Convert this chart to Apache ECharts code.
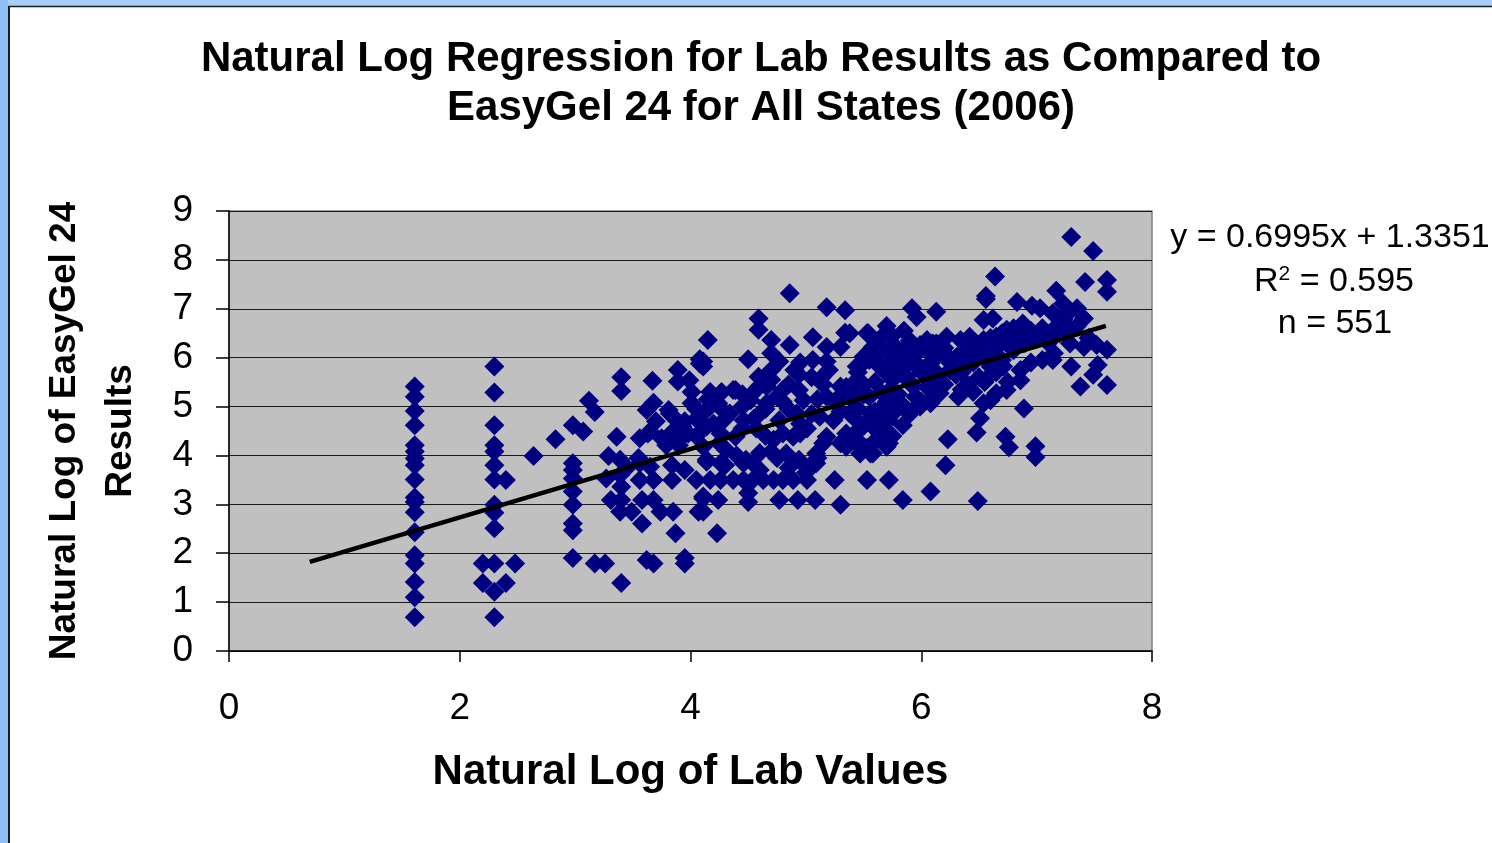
<!DOCTYPE html>
<html>
<head>
<meta charset="utf-8">
<title>Natural Log Regression for Lab Results</title>
<script src="https://cdn.jsdelivr.net/npm/echarts@6/dist/echarts.min.js"></script>
<style>
  html, body { margin: 0; padding: 0; background: #ffffff; }
  #chart { width: 1492px; height: 843px; }
</style>
</head>
<body>
<div id="chart"></div>
<script>
// ln(lab value) vs ln(EasyGel 24 result)
const labGelPairs = [
  [1.61,5.41],[1.61,5.2],[1.61,4.91],[1.61,4.62],[1.61,4.21],[1.61,4.08],[1.61,3.94],[1.61,3.80],[1.61,3.51],
  [1.61,3.14],[1.61,3.05],[1.61,2.84],[1.61,2.43],[1.61,1.96],[1.61,1.79],[1.61,1.41],[1.61,1.10],[1.61,0.69],
  [2.30,5.82],[2.30,5.29],[2.30,4.62],[2.30,4.21],[2.30,4.08],[2.30,3.80],[2.30,3.51],[2.30,2.99],[2.30,2.83],
  [2.30,2.51],[2.30,1.79],[2.30,1.21],[2.30,0.69],
  [2.20,1.79],[2.48,1.79],[2.20,1.39],[2.40,1.39],[2.40,3.50],[2.64,3.99],[2.83,4.33],
  [2.98,4.62],[3.07,4.49],[3.12,5.12],[3.17,4.89],[2.98,3.84],[2.98,3.70],[2.98,3.53],[2.98,3.26],[2.98,2.99],
  [2.98,2.61],[2.98,2.47],[2.98,1.90],
  [3.17,1.79],[3.26,1.79],[3.40,1.39],[3.40,5.60],[3.40,5.32],[3.36,4.38],[3.29,3.99],[3.39,3.91],[3.39,3.60],
  [3.27,3.53],[3.40,3.36],[3.31,3.09],[3.40,3.09],[3.39,2.85],[3.49,2.85],[3.58,2.61],[3.58,3.09],[3.68,3.09],
  [3.56,4.35],[3.65,4.49],[3.62,4.93],[3.68,5.08],[3.67,5.53],[3.65,3.77],[3.62,1.86],[3.68,1.79],
  [3.74,2.85],[3.85,2.85],[3.87,2.41],[3.95,1.90],[3.95,1.79],[3.84,3.80],[3.79,4.21],[3.81,4.93],[3.89,5.75],
  [3.89,5.51],[4.01,5.30],[4.01,5.07],[4.08,5.88],[4.14,4.93],[4.17,5.30],[4.07,2.85],[4.11,3.16],[4.14,3.91],
  [3.88,4.72],[3.93,4.59],[3.98,4.45],[3.90,4.21],[4.23,2.41],
  [4.59,6.80],[4.59,6.57],[4.70,6.36],[4.15,6.36],[4.08,5.97],[4.50,5.97],[3.99,5.54],[4.70,6.09],[4.70,5.75],
  [4.59,5.61],[4.27,5.30],[4.39,5.34],[4.59,5.40],
  [4.86,7.32],[5.18,7.03],[5.34,6.97],[5.92,7.01],[5.96,6.83],[6.13,6.94],[4.86,6.26],[5.06,6.42],[5.34,6.51],
  [5.53,6.50],[5.70,6.65],[5.30,6.22],[5.18,6.22],[5.58,6.22],[5.76,6.26],[5.99,6.26],[6.10,6.29],[4.77,5.92],
  [5.06,5.95],[5.18,5.92],[5.47,5.83],[5.61,5.92],[5.82,5.95],[5.96,5.88],[4.11,5.92],[4.11,5.82],[4.94,5.65],
  [5.13,5.58],[4.94,5.34],[4.80,5.34],[4.66,5.41],[4.37,5.34],[4.26,5.27],[5.30,5.41],[5.44,5.54],[5.70,5.68],
  [5.87,5.61],[6.08,5.61],[4.52,5.13],[4.66,5.07],[4.80,5.10],[4.98,5.13],[5.18,5.20],[5.32,5.27],[5.50,5.24],
  [5.70,5.27],[5.93,5.41],[6.10,5.41],[4.17,5.00],[4.34,4.86],[4.46,4.72],[4.60,4.86],[4.77,4.72],[4.92,4.86],
  [5.12,4.79],[5.24,4.72],[5.38,4.86],[5.58,4.79],[5.70,4.86],[5.84,4.62],[5.99,5.00],[4.14,4.59],[4.26,4.45],
  [4.39,4.38],[4.57,4.55],[4.72,4.32],[4.89,4.38],[5.01,4.55],[5.18,4.38],[5.30,4.25],[5.44,4.49],[5.53,4.15],
  [5.64,4.45],[5.72,4.25],[4.11,4.18],[4.31,4.11],[4.48,3.91],[4.70,4.08],[4.83,4.04],[4.94,3.91],[5.09,4.04],
  [5.35,4.18],[5.47,4.04],[5.58,4.04],[5.06,3.80],[4.14,3.87],
  [3.56,3.50],[3.68,3.50],[3.84,3.50],[4.05,3.50],[4.17,3.50],[4.26,3.50],[4.37,3.50],[4.46,3.50],[4.54,3.50],
  [4.63,3.50],[4.72,3.50],[4.80,3.50],[4.89,3.50],[5.01,3.50],[5.25,3.50],[5.53,3.50],[5.72,3.50],
  [4.50,3.23],[4.11,3.12],[4.24,3.09],[4.50,3.05],[4.77,3.09],[4.93,3.09],[5.08,3.09],[5.30,2.99],[5.84,3.09],
  [6.08,3.26],[4.11,2.85],
  [3.56,3.84],[4.26,3.84],[4.46,3.84],[4.54,3.84],[3.63,4.45],[3.82,4.86],[4.24,5.07],[3.90,4.32],[4.11,4.62],
  [5.09,3.84],
  [7.30,8.47],[7.49,8.18],[6.64,7.66],[7.42,7.55],[7.61,7.59],[7.61,7.35],[7.17,7.37],[6.56,7.26],[6.56,7.20],
  [6.83,7.14],[6.96,7.06],[7.03,7.01],[7.23,7.11],[7.35,7.01],[7.41,6.80],[7.23,6.78],[7.14,6.91],[6.88,6.70],
  [6.54,6.77],[6.62,6.80],[5.54,6.50],[5.66,6.43],[5.38,6.50],[7.17,6.63],[7.29,6.57],[7.14,6.46],[7.29,6.29],
  [7.41,6.22],[7.52,6.26],[7.61,6.16],[7.15,6.09],[7.14,5.95],[7.30,5.82],[7.53,5.85],[7.49,5.65],[7.38,5.41],
  [7.61,5.44],[6.99,6.40],[6.88,6.29],[6.74,6.57],[6.65,6.43],[6.54,6.36],[6.42,6.43],[6.34,6.36],[6.22,6.43],
  [6.13,6.29],[6.05,6.36],[5.99,6.22],[5.87,6.22],[5.50,6.02],[5.76,6.02],[5.93,6.02],[6.08,6.09],[6.19,6.12],
  [6.34,6.09],[6.48,6.12],[6.57,6.02],[5.44,5.82],[5.64,5.82],[5.82,5.75],[5.96,5.82],[6.08,5.88],[6.25,5.75],
  [6.39,5.82],[6.60,5.82],[6.71,5.82],[6.86,5.75],[6.86,5.54],[6.74,5.34],[6.65,5.27],[6.60,5.13],[6.54,5.07],
  [6.32,5.20],[6.16,5.27],[6.08,5.07],[5.96,5.00],[5.82,5.07],[5.67,5.00],[5.56,4.86],[5.44,5.27],[5.44,4.72],
  [5.58,4.59],[5.72,4.72],[5.67,4.45],[5.47,4.18],[5.56,4.04],[5.70,4.18],[6.89,4.96],[6.51,4.76],[6.48,4.47],
  [6.73,4.38],[6.76,4.17],[6.99,4.19],[6.99,3.97],[6.23,4.33],[6.21,3.80],[6.49,3.07]
];

// estimated points inside the solid-looking band around the fit line
const denseBandPairs = [
  [4.45,4.55],[4.55,4.75],[4.65,4.95],[4.75,5.20],[4.85,5.45],[4.90,5.75],[4.70,5.55],[4.55,5.30],[4.45,5.25],
  [4.85,4.95],[4.95,4.65],[5.05,4.85],[5.10,5.15],[5.15,5.45],[5.20,5.75],[5.05,5.60],[4.95,5.90],[4.65,4.40],
  [4.80,4.45],[4.95,4.45],[4.75,3.95],[4.60,4.05],[4.40,4.00],[4.30,3.80],[4.60,3.70],[4.85,3.75],[5.00,3.65],
  [5.15,4.25],[5.10,3.95],[4.25,4.25],[4.05,4.40],[4.20,4.65],[4.30,4.75],[4.05,4.75],[4.25,5.00],[4.45,5.00],
  [4.15,5.15],
  [5.25,5.10],[5.35,5.40],[5.45,5.70],[5.55,5.95],[5.65,6.15],[5.75,6.45],[5.85,6.55],[5.30,4.90],[5.40,5.15],
  [5.50,5.45],[5.60,5.50],[5.70,5.85],[5.80,6.05],[5.90,6.35],[5.45,4.95],[5.55,5.20],[5.65,5.30],[5.75,5.55],
  [5.85,5.80],[5.95,6.10],[6.05,6.15],[5.50,4.60],[5.60,4.90],[5.70,5.10],[5.80,5.25],[5.90,5.50],[6.00,5.70],
  [6.10,5.95],[6.20,6.20],[5.65,4.60],[5.75,4.85],[5.85,5.00],[5.95,5.20],[6.05,5.40],[6.15,5.65],[6.25,5.90],
  [5.35,4.45],[5.45,4.30],[5.60,4.30],[5.75,4.40],[5.90,4.85],[6.00,5.10],[6.10,5.20],[6.20,5.45],[6.30,5.65],
  [6.30,5.95],[6.40,6.10],[6.50,6.25],[6.60,6.40],[6.70,6.50],[6.80,6.60],[6.35,5.70],[6.45,5.90],[6.55,6.05],
  [6.65,6.20],[6.75,6.35],[6.85,6.45],[6.95,6.55],[7.05,6.60],[6.40,5.45],[6.50,5.60],[6.60,5.65],[6.70,5.95],
  [6.80,6.15],[6.90,6.30],[7.00,6.45],[6.45,5.30],[6.55,5.50],[6.65,5.70],[6.75,5.50],[6.95,5.90],[7.10,6.30],
  [7.20,6.50],[7.25,6.85],[7.35,6.65],[7.45,6.40],[7.05,5.95],[6.35,5.35],
  [3.45,3.75],[3.55,3.95],[3.75,4.35],[3.85,4.50],[3.95,4.70],[4.05,4.95],[3.70,4.70],[3.95,3.70]
];

// fitted line as printed on the chart
const trendSlope = 0.6995;
const trendIntercept = 1.3351;
const trendRangeX = [0.7, 7.6];
const statLines = ['y = 0.6995x + 1.3351', '= 0.595', 'n = 551'];

const chart = echarts.init(document.getElementById('chart'));

const font = '"Liberation Sans", Arial, sans-serif';
const trendData = trendRangeX.map(x => [x, trendSlope * x + trendIntercept]);

const option = {
  backgroundColor: '#ffffff',
  animation: false,
  title: {
    text: 'Natural Log Regression for Lab Results as Compared to\nEasyGel 24 for All States (2006)',
    left: 756,
    top: 30,
    textAlign: 'center',
    textStyle: { fontFamily: font, fontSize: 42, fontWeight: 'bold', color: '#000', lineHeight: 49 }
  },
  grid: {
    left: 229, top: 211, right: 340, bottom: 192,
    show: true, backgroundColor: '#c0c0c0', borderColor: '#808080', borderWidth: 1.5
  },
  xAxis: {
    type: 'value', min: 0, max: 8, interval: 2,
    name: 'Natural Log of Lab Values',
    nameLocation: 'middle', nameGap: 100,
    nameTextStyle: { fontFamily: font, fontSize: 42, fontWeight: 'bold', color: '#000' },
    axisLine: { show: true, onZero: false, lineStyle: { color: '#000', width: 1.5 } },
    axisTick: { show: true, inside: false, length: 11, lineStyle: { color: '#000', width: 1.5 } },
    axisLabel: { fontFamily: font, fontSize: 37, color: '#000', margin: 39 },
    splitLine: { show: false }
  },
  yAxis: {
    type: 'value', min: 0, max: 9, interval: 1,
    name: 'Natural Log of EasyGel 24\nResults',
    nameLocation: 'middle', nameGap: 80, nameRotate: 90,
    nameTextStyle: { fontFamily: font, fontSize: 37, fontWeight: 'bold', color: '#000', lineHeight: 56 },
    axisLine: { show: true, onZero: false, lineStyle: { color: '#000', width: 1.5 } },
    axisTick: { show: true, inside: false, length: 13, lineStyle: { color: '#000', width: 1.5 } },
    axisLabel: { fontFamily: font, fontSize: 37, color: '#000', margin: 36 },
    splitLine: { show: true, lineStyle: { color: '#1a1a1a', width: 1.2 } }
  },
  series: [
    {
      name: 'Samples',
      type: 'scatter',
      data: labGelPairs.concat(denseBandPairs),
      symbol: 'diamond',
      symbolSize: 20,
      itemStyle: { color: '#000080', opacity: 1 },
      z: 2
    },
    {
      name: 'Trend',
      type: 'line',
      data: trendData,
      symbol: 'none',
      lineStyle: { color: '#000', width: 4.5 },
      z: 3
    }
  ],
  graphic: [
    // light blue slide frame on the top and left edges
    { type: 'rect', shape: { x: 0, y: 0, width: 1492, height: 6 }, style: { fill: '#a9cdf5' }, silent: true },
    { type: 'rect', shape: { x: 0, y: 0, width: 8, height: 843 }, style: { fill: '#8fc1f8' }, silent: true },
    { type: 'line', shape: { x1: 8, y1: 6.5, x2: 1492, y2: 6.5 }, style: { stroke: '#1c1c1c', lineWidth: 1.5 }, silent: true },
    { type: 'line', shape: { x1: 9, y1: 6, x2: 9, y2: 843 }, style: { stroke: '#1c1c1c', lineWidth: 2 }, silent: true },
    {
      type: 'text', x: 1330, y: 238,
      style: { text: statLines[0], fontFamily: font, fontSize: 34, fill: '#000', textAlign: 'center', textVerticalAlign: 'middle' }
    },
    {
      type: 'text', x: 1334, y: 282,
      style: {
        text: 'R{sup|2} ' + statLines[1],
        fontFamily: font, fontSize: 34, fill: '#000', textAlign: 'center', textVerticalAlign: 'middle',
        rich: { sup: { fontFamily: font, fontSize: 21, fill: '#000', verticalAlign: 'top', padding: [0, 0, 15, 0] } }
      }
    },
    {
      type: 'text', x: 1335, y: 324,
      style: { text: statLines[2], fontFamily: font, fontSize: 34, fill: '#000', textAlign: 'center', textVerticalAlign: 'middle' }
    }
  ]
};

chart.setOption(option);
window.addEventListener('resize', () => chart.resize());
</script>
</body>
</html>
